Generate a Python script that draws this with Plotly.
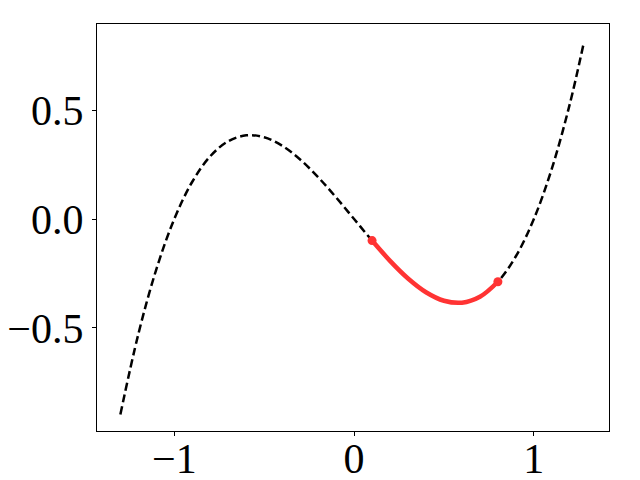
import plotly.graph_objects as go

# values
x_full = [-1.3, -1.2, -1.1, -1.0, -0.9, -0.8, -0.7, -0.6, -0.5, -0.4, -0.3, -0.2, -0.1,
          0.0, 0.1, 0.2, 0.3, 0.4, 0.5, 0.6, 0.7, 0.8, 0.9, 1.0, 1.1, 1.2, 1.275]
y_full = [-0.897, -0.528, -0.231, 0.0, 0.171, 0.288, 0.357, 0.384, 0.375, 0.336, 0.273, 0.192, 0.099,
          0.0, -0.099, -0.192, -0.273, -0.336, -0.375, -0.384, -0.357, -0.288, -0.171, 0.0, 0.231, 0.528, 0.798]

x_seg = [0.1, 0.2, 0.3, 0.4, 0.5, 0.6, 0.7, 0.8]
y_seg = [-0.099, -0.192, -0.273, -0.336, -0.375, -0.384, -0.357, -0.288]

x_ends = [0.1, 0.8]
y_ends = [-0.099, -0.288]

x_ticks = [-1, 0, 1]
y_ticks = [-0.5, 0.0, 0.5]
y_tick_text = ["\u22120.5", "0.0", "0.5"]
x_tick_text = ["\u22121", "0", "1"]

fig = go.Figure()
fig.add_trace(go.Scatter(x=x_full, y=y_full, mode="lines",
                         line=dict(color="black", width=2.5, dash="8px,4px", shape="spline", smoothing=1.0),
                         showlegend=False))
fig.add_trace(go.Scatter(x=x_seg, y=y_seg, mode="lines",
                         line=dict(color="#ff3333", width=4.5, shape="spline", smoothing=1.0),
                         showlegend=False))
fig.add_trace(go.Scatter(x=x_ends, y=y_ends, mode="markers",
                         marker=dict(color="#ff3333", size=9),
                         showlegend=False))

axis_common = dict(showgrid=False, zeroline=False, showline=True, linecolor="black", linewidth=1.2,
                   mirror=True, ticks="outside", ticklen=4, tickwidth=1, tickcolor="black",
                   automargin=False,
                   tickfont=dict(family="Liberation Serif, DejaVu Serif, serif", size=42, color="black"))

fig.update_layout(
    width=640, height=480,
    margin=dict(l=97, r=31, t=24, b=49),
    plot_bgcolor="white", paper_bgcolor="white",
    xaxis=dict(range=[-1.43, 1.418], tickvals=x_ticks, ticktext=x_tick_text,
               ticklabelstandoff=-14, **axis_common),
    yaxis=dict(range=[-0.973, 0.895], tickvals=y_ticks, ticktext=y_tick_text, **axis_common),
)

fig.write_html("out.html", config={"displayModeBar": False},
               post_script="document.body.style.margin='0px';")
